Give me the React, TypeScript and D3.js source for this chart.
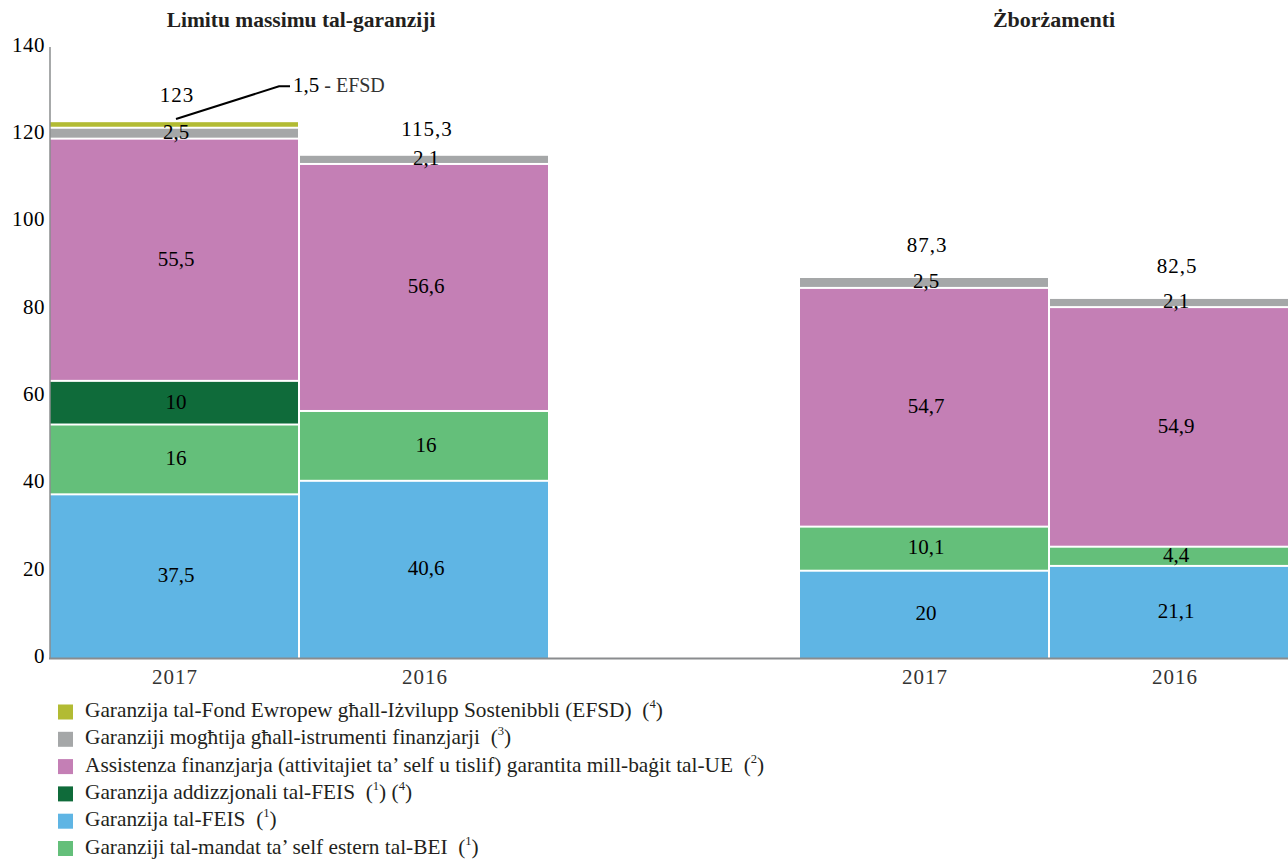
import React from "react";
import * as d3 from "d3";

const groupTitles = ["Limitu massimu tal-garanziji", "Żborżamenti"];
const barKeys = ["L2017", "L2016", "gap", "Z2017", "Z2016"];
const barYears = ["2017", "2016", "", "2017", "2016"];
const seriesKeys = ["feis", "bei", "feisAdd", "assist", "instr", "efsd"];
const seriesColors = ["#5fb5e4", "#64bf7a", "#0f6b3a", "#c47fb5", "#a5a7a8", "#b2bb33"];

// values per series, for bars L2017, L2016, Z2017, Z2016
const feis = [37.5, 40.6, 20, 21.1];
const bei = [16, 16, 10.1, 4.4];
const feisAdd = [10, 0, 0, 0];
const assist = [55.5, 56.6, 54.7, 54.9];
const instr = [2.5, 2.1, 2.5, 2.1];
const efsd = [1.5, 0, 0, 0];
const totals = ["123", "115,3", "87,3", "82,5"];
const valueLabels = [
  ["37,5", "40,6", "20", "21,1"],
  ["16", "16", "10,1", "4,4"],
  ["10", "", "", ""],
  ["55,5", "56,6", "54,7", "54,9"],
  ["2,5", "2,1", "2,5", "2,1"],
  ["", "", "", ""],
];
const yTicks = [0, 20, 40, 60, 80, 100, 120, 140];

const legendItems = [
  { color: "#b2bb33", text: "Garanzija tal-Fond Ewropew għall-Iżvilupp Sostenibbli (EFSD)", sup: ["4"] },
  { color: "#a5a7a8", text: "Garanziji mogħtija għall-istrumenti finanzjarji", sup: ["3"] },
  { color: "#c47fb5", text: "Assistenza finanzjarja (attivitajiet ta’ self u tislif) garantita mill-baġit tal-UE", sup: ["2"] },
  { color: "#0f6b3a", text: "Garanzija addizzjonali tal-FEIS", sup: ["1", "4"] },
  { color: "#5fb5e4", text: "Garanzija tal-FEIS", sup: ["1"] },
  { color: "#64bf7a", text: "Garanziji tal-mandat ta’ self estern tal-BEI", sup: ["1"] },
];

const serif = "'Liberation Serif', 'DejaVu Serif', serif";

export default function App() {
  const W = 1288;
  const H = 860;
  const x = d3.scaleBand<string>().domain(barKeys).range([50, 1300]).padding(0);
  const y = d3.scaleLinear().domain([0, 140]).range([658, 47]);
  const bars = ["L2017", "L2016", "Z2017", "Z2016"];
  const seriesValues = [feis, bei, feisAdd, assist, instr, efsd];
  const rows = bars.map((k, i) => {
    const r: any = { key: k };
    seriesKeys.forEach((s, j) => (r[s] = seriesValues[j][i]));
    return r;
  });
  const stack = d3.stack().keys(seriesKeys)(rows as any);
  const bw = x.bandwidth() - 2;

  const g1c = ((x("L2017") as number) + (x("L2016") as number) + x.bandwidth()) / 2;
  const g2c = ((x("Z2017") as number) + (x("Z2016") as number) + x.bandwidth()) / 2;

  const l0 = (x("L2017") as number) + x.bandwidth() / 2;
  const efsdStart: [number, number] = [l0 + 1, y(123.5)];
  const efsdKnee: [number, number] = [l0 + 104, y(131)];
  const efsdEnd: [number, number] = [l0 + 115, y(131)];
  const nb = "\u00a0";

  return (
    <svg width={W} height={H} style={{ position: "absolute", left: 0, top: 0, display: "block" }}>
      <rect x={0} y={0} width={W} height={H} fill="#fff" />
      {/* titles */}
      <text x={g1c + 1} y={22} textAnchor="middle" dominantBaseline="middle" fontFamily={serif} fontWeight="bold" fontSize={21.5} fill="#231f20">
        {groupTitles[0]}
      </text>
      <text x={g2c + 4} y={22} textAnchor="middle" dominantBaseline="middle" fontFamily={serif} fontWeight="bold" fontSize={22} fill="#231f20">
        {groupTitles[1]}
      </text>

      {/* y ticks */}
      {yTicks.map((t) => (
        <text key={t} x={45} y={y(t)} textAnchor="end" dominantBaseline="middle" fontFamily={serif} fontSize={21} letterSpacing={0.5} fill="#000">
          {t}
        </text>
      ))}

      {/* bars */}
      {stack.map((s, si) => (
        <g key={s.key as string}>
          {s.map((d, bi) => {
            const v = d[1] - d[0];
            if (v <= 0) return null;
            const x0 = x(bars[bi]) as number;
            const top = y(d[1]) + 1;
            const bottom = si === 0 ? y(0) : y(d[0]) - 1;
            return <rect key={bi} x={x0} y={top} width={bw} height={Math.max(0, bottom - top)} fill={seriesColors[si]} />;
          })}
        </g>
      ))}

      {/* value labels */}
      {stack.map((s, si) =>
        s.map((d, bi) => {
          const lbl = valueLabels[si][bi];
          if (!lbl) return null;
          const cx = (x(bars[bi]) as number) + x.bandwidth() / 2;
          const cy = y((d[0] + d[1]) / 2);
          return (
            <text key={`${si}-${bi}`} x={cx + 1} y={cy + 1} textAnchor="middle" dominantBaseline="middle" fontFamily={serif} fontSize={21} fill="#000">
              {lbl}
            </text>
          );
        })
      )}

      {/* totals */}
      {bars.map((k, bi) => {
        const top = stack[stack.length - 1][bi][1];
        const cx = (x(k) as number) + x.bandwidth() / 2;
        const off = bi < 2 ? 24 : 30;
        return (
          <text key={k} x={cx + 2} y={y(top) - off} textAnchor="middle" dominantBaseline="middle" fontFamily={serif} fontSize={21} letterSpacing={1} fill="#000">
            {totals[bi]}
          </text>
        );
      })}

      {/* EFSD annotation */}
      <polyline points={[efsdStart, efsdKnee, efsdEnd].map((p) => p.join(",")).join(" ")} fill="none" stroke="#000" strokeWidth={2} />
      <text x={efsdEnd[0] + 3} y={efsdEnd[1] + 1} dominantBaseline="middle" fontFamily={serif} fontSize={21} fill="#000">
        1,5
        <tspan fill="#333" fontSize={20}>{nb}- EFSD</tspan>
      </text>

      {/* axes */}
      <line x1={50} x2={50} y1={y(140)} y2={y(0)} stroke="#8a8c8e" strokeWidth={1.5} />
      <line x1={49} x2={W} y1={y(0) + 0.5} y2={y(0) + 0.5} stroke="#8a8c8e" strokeWidth={2} />

      {/* x labels */}
      {barKeys.map((k, i) =>
        barYears[i] ? (
          <text key={k} x={(x(k) as number) + x.bandwidth() / 2} y={679} textAnchor="middle" dominantBaseline="middle" fontFamily={serif} fontSize={21} letterSpacing={1} fill="#333">
            {barYears[i]}
          </text>
        ) : null
      )}

      {/* legend */}
      {legendItems.map((it, i) => {
        const cy = 712 + i * 27.3;
        return (
          <g key={i}>
            <rect x={58} y={cy - 7.5} width={15} height={15} fill={it.color} />
            <text x={0} y={cy} transform={`translate(85,0) scale(0.97,1)`} dominantBaseline="middle" fontFamily={serif} fontSize={22} fill="#231f20">
              {it.text}
              {it.sup.map((s, j) => (
                <tspan key={j}>
                  {j === 0 ? `${nb}${nb}(` : `${nb}(`}
                  <tspan fontSize={13} dy={-7}>{s}</tspan>
                  <tspan dy={7}>)</tspan>
                </tspan>
              ))}
            </text>
          </g>
        );
      })}
    </svg>
  );
}
